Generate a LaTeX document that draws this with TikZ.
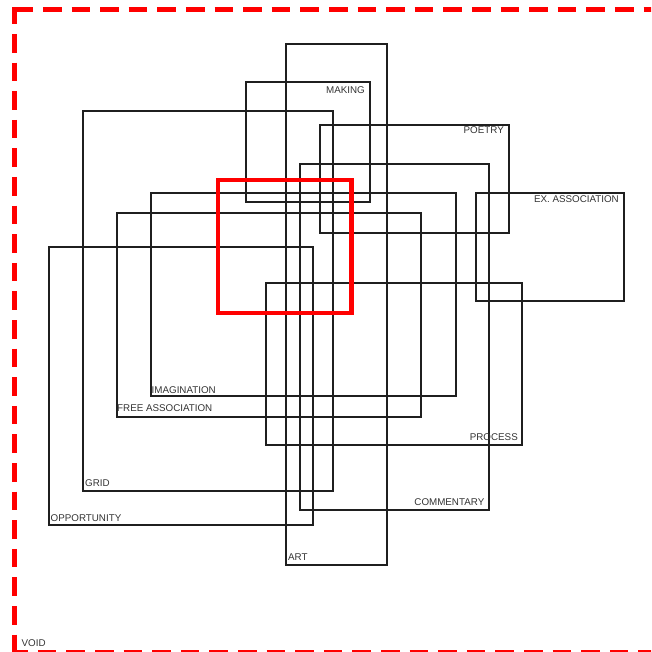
\documentclass[tikz,border=0pt]{standalone}
\usepackage{fontspec}
\setmainfont{Liberation Sans}
\begin{document}
\begin{tikzpicture}[x=1pt,y=-1pt,
  frame/.style={draw=black!88, line width=2pt},
  lbl/.style={font=\fontsize{9.8}{11}\selectfont, text=black!80, inner sep=0pt},
  voidline/.style={draw=red, line width=4.6pt, dash pattern=on 18.6pt off 10pt},
  focus/.style={draw=red, line width=4.5pt}]
\useasboundingbox (0,0) rectangle (651,652);
\clip (0,0) rectangle (651,652);
% void frame
\draw[voidline] (14.3,9.6) -- (700,9.6);
\draw[voidline, dash phase=1.9pt] (14.3,7.3) -- (14.3,700);
\draw[voidline, dash phase=5.1pt] (14.3,652.2) -- (700,652.2);
% concept frames
\draw[frame] (286,44) rectangle (387,565);
\draw[frame] (246,82.5) rectangle (370,202.5);
\draw[frame] (82.5,111.5) rectangle (333,491);
\draw[frame] (319.5,125.5) rectangle (508.5,233);
\draw[frame] (299.5,164) rectangle (488.5,509.5);
\draw[frame] (150.5,193) rectangle (455.5,395.5);
\draw[frame] (475.5,193) rectangle (624,300.5);
\draw[frame] (116.5,213) rectangle (421,416.5);
\draw[frame] (48.5,247) rectangle (312.5,524.5);
\draw[frame] (265.5,282.5) rectangle (522,444.5);
% focus square
\draw[focus] (218.2,179.8) rectangle (351.5,313.2);
% labels
\node[lbl, anchor=base east] (making) at (365,94) {MAKING};
\node[lbl, anchor=base east] (poetry) at (504,134) {POETRY};
\node[lbl, anchor=base east] (exassoc) at (619,202.7) {EX. ASSOCIATION};
\node[lbl, anchor=base east] (process) at (518,440.7) {PROCESS};
\node[lbl, anchor=base east] (commentary) at (484.5,505) {COMMENTARY};
\node[lbl, anchor=base west] (imagination) at (151.5,393.3) {IMAGINATION};
\node[lbl, anchor=base west] (freeassoc) at (117,411.7) {FREE ASSOCIATION};
\node[lbl, anchor=base west] (grid) at (85,486) {GRID};
\node[lbl, anchor=base west] (opportunity) at (50.5,521.7) {OPPORTUNITY};
\node[lbl, anchor=base west] (art) at (288,560) {ART};
\node[lbl, anchor=base west] (void) at (21.5,646.7) {VOID};
\end{tikzpicture}
\end{document}
